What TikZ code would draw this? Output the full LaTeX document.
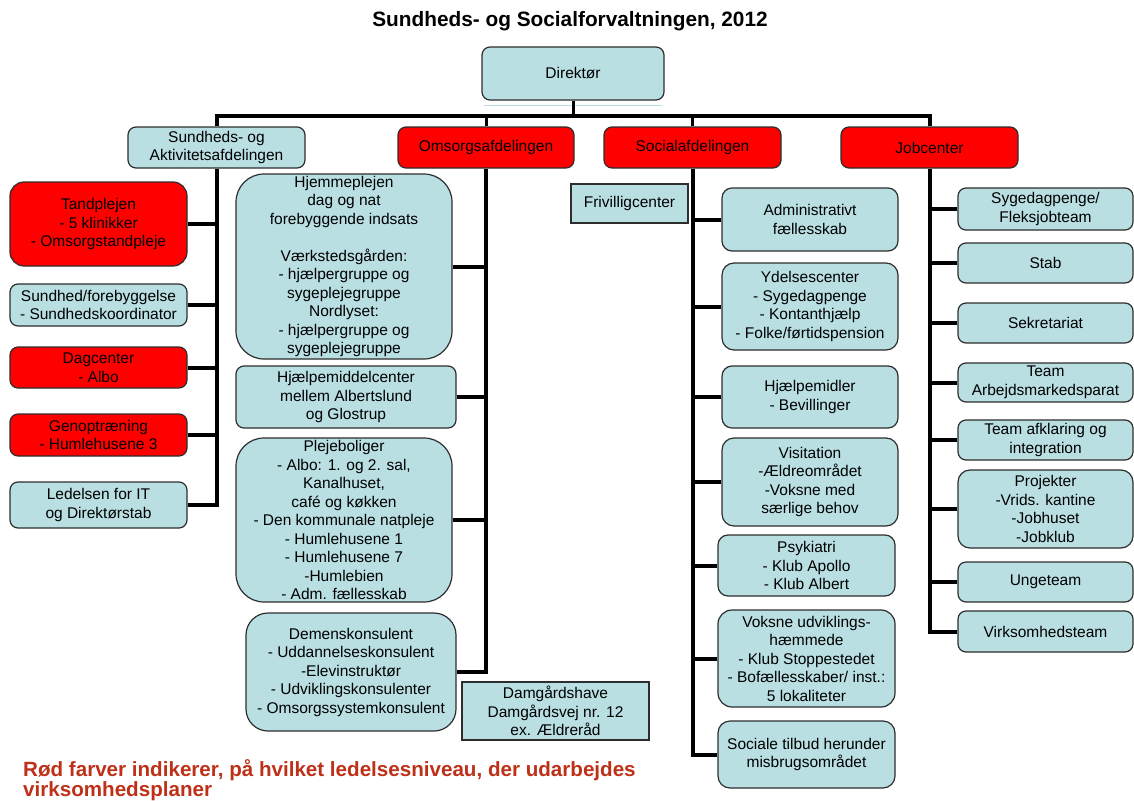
\documentclass[tikz,border=0pt]{standalone}
\usepackage{fontspec}
\setmainfont{Liberation Sans}
\definecolor{lblue}{RGB}{185,223,227}
\definecolor{bord}{RGB}{45,45,45}
\definecolor{mred}{RGB}{255,0,0}
\definecolor{notered}{RGB}{190,48,24}
\newcommand\mybox[7]{\node[#1, minimum width={#4-#2}, minimum height={#5-#3}] (#6) at ({(#2+#4)/2},{(#3+#5)/2}) {#7};}
\tikzset{
  basebox/.style={draw=bord, line width=1.2pt, align=center, inner sep=0pt,
    font=\fontsize{15.5}{18.5}\selectfont, rounded corners=8pt},
  bluebox/.style={basebox, fill=lblue},
  redbox/.style={basebox, fill=mred},
  sqbox/.style={basebox, fill=lblue, sharp corners},
  bus/.style={line width=4pt, draw=black},
  dropline/.style={line width=3pt, draw=black},
}
\begin{document}
\begin{tikzpicture}[x=1pt,y=-1pt]
\useasboundingbox (0,0) rectangle (1134,800);
% title
\node[font=\bfseries\fontsize{20.8}{24}\selectfont] (title) at (570,21) {Sundheds- og Socialforvaltningen, 2012};
% top
\mybox{bluebox}{482}{47}{664}{100}{dir}{Direktør}
\draw[lblue, line width=1pt] (484,105) -- (662,105);
\mybox{bluebox}{128}{127}{305}{168}{sund}{Sundheds- og\\Aktivitetsafdelingen}
\mybox{redbox}{398}{127}{574}{168}{oms}{Omsorgsafdelingen}
\mybox{redbox}{604}{127}{781}{168}{soc}{Socialafdelingen}
\mybox{redbox}{841}{127}{1018}{168}{job}{Jobcenter}
\coordinate (busy) at (0,116);
% left column
\mybox{redbox, rounded corners=14pt}{10}{182}{187}{266}{tand}{Tandplejen\\- 5 klinikker\\- Omsorgstandpleje}
\mybox{bluebox}{10}{284}{187}{326}{fore}{Sundhed/forebyggelse\\- Sundhedskoordinator}
\mybox{redbox}{10}{347}{187}{388}{dag}{Dagcenter\\- Albo}
\mybox{redbox}{10}{414}{187}{456}{geno}{Genoptræning\\- Humlehusene 3}
\mybox{bluebox}{10}{482}{187}{528}{led}{Ledelsen for IT\\og Direktørstab}
% middle column
\mybox{bluebox, rounded corners=28pt}{236}{174}{452}{359}{hjem}{Hjemmeplejen\\dag og nat\\forebyggende indsats\\\mbox{}\\Værkstedsgården:\\- hjælpergruppe og\\sygeplejegruppe\\Nordlyset:\\- hjælpergruppe og\\sygeplejegruppe}
\mybox{bluebox}{236}{366}{456}{428}{hjmc}{Hjælpemiddelcenter\\mellem Albertslund\\og Glostrup}
\mybox{bluebox, rounded corners=28pt}{236}{438}{452}{602}{pleje}{Plejeboliger\\- Albo: 1. og 2. sal,\\Kanalhuset,\\café og køkken\\- Den kommunale natpleje\\- Humlehusene 1\\- Humlehusene 7\\-Humlebien\\- Adm. fællesskab}
\mybox{bluebox, rounded corners=22pt}{246}{613}{456}{731}{demens}{Demenskonsulent\\- Uddannelseskonsulent\\-Elevinstruktør\\- Udviklingskonsulenter\\- Omsorgssystemkonsulent}
\mybox{sqbox}{462}{682}{649}{740}{damg}{Damgårdshave\\Damgårdsvej nr. 12\\ex. Ældreråd}
% social column
\mybox{sqbox}{571}{184}{688}{223}{friv}{Frivilligcenter}
\mybox{bluebox, rounded corners=10pt}{722}{188}{898}{251}{adm}{Administrativt\\fællesskab}
\mybox{bluebox, rounded corners=12pt}{722}{263}{898}{350}{ydel}{Ydelsescenter\\- Sygedagpenge\\- Kontanthjælp\\- Folke/førtidspension}
\mybox{bluebox, rounded corners=10pt}{722}{366}{898}{428}{hjmd}{Hjælpemidler\\- Bevillinger}
\mybox{bluebox, rounded corners=12pt}{722}{438}{898}{526}{visi}{Visitation\\-Ældreområdet\\-Voksne med\\særlige behov}
\mybox{bluebox, rounded corners=10pt}{718}{535}{895}{596}{psyk}{Psykiatri\\- Klub Apollo\\- Klub Albert}
\mybox{bluebox, rounded corners=14pt}{718}{610}{895}{707}{voks}{Voksne udviklings-\\hæmmede\\- Klub Stoppestedet\\- Bofællesskaber/ inst.:\\5 lokaliteter}
\mybox{bluebox, rounded corners=12pt}{718}{721}{895}{788}{stilb}{Sociale tilbud herunder\\misbrugsområdet}
% job column
\mybox{bluebox}{958}{188}{1133}{230}{syge}{Sygedagpenge/\\Fleksjobteam}
\mybox{bluebox}{958}{243}{1133}{283}{stab}{Stab}
\mybox{bluebox}{958}{303}{1133}{343}{sekr}{Sekretariat}
\mybox{bluebox}{958}{363}{1133}{402}{tarb}{Team\\Arbejdsmarkedsparat}
\mybox{bluebox}{958}{420}{1133}{460}{tafk}{Team afklaring og\\integration}
\mybox{bluebox, rounded corners=12pt}{958}{470}{1133}{548}{proj}{Projekter\\-Vrids. kantine\\-Jobhuset\\-Jobklub}
\mybox{bluebox}{958}{562}{1133}{602}{unge}{Ungeteam}
\mybox{bluebox}{958}{611}{1133}{652}{virk}{Virksomhedsteam}
% connectors: top
\draw[dropline] (dir.south) -- (dir.south |- busy);
\draw[bus] (sund.north) -- (sund.north |- busy) -- (job.north |- busy) -- (job.north);
\draw[dropline] (oms.north) -- (oms.north |- busy);
\draw[dropline] (soc.north) -- (soc.north |- busy);
% left column
\draw[bus] (sund.south) -- (sund.south |- led.east) -- (led.east);
\foreach \n in {tand,fore,dag,geno} \draw[bus] (\n.east) -- (\n.east -| sund.south);
% middle column
\draw[bus] (oms.south) -- (oms.south |- demens.east) -- (demens.east);
\foreach \n in {hjem,hjmc,pleje} \draw[bus] (\n.east) -- (\n.east -| oms.south);
% social column
\draw[bus] (soc.south) -- (soc.south |- stilb.west) -- (stilb.west);
\foreach \n in {adm,ydel,hjmd,visi,psyk,voks} \draw[bus] (\n.west) -- (\n.west -| soc.south);
% job column
\draw[bus] (job.south) -- (job.south |- virk.west) -- (virk.west);
\foreach \n in {syge,stab,sekr,tarb,tafk,proj,unge} \draw[bus] (\n.west) -- (\n.west -| job.south);
% note
\node[anchor=north west, inner sep=0pt, align=left, text=notered, font=\bfseries\fontsize{20.6}{16.5}\selectfont] (note) at (23,759) {Rød farver indikerer, på hvilket ledelsesniveau, der udarbejdes\\virksomhedsplaner};
\end{tikzpicture}
\end{document}
